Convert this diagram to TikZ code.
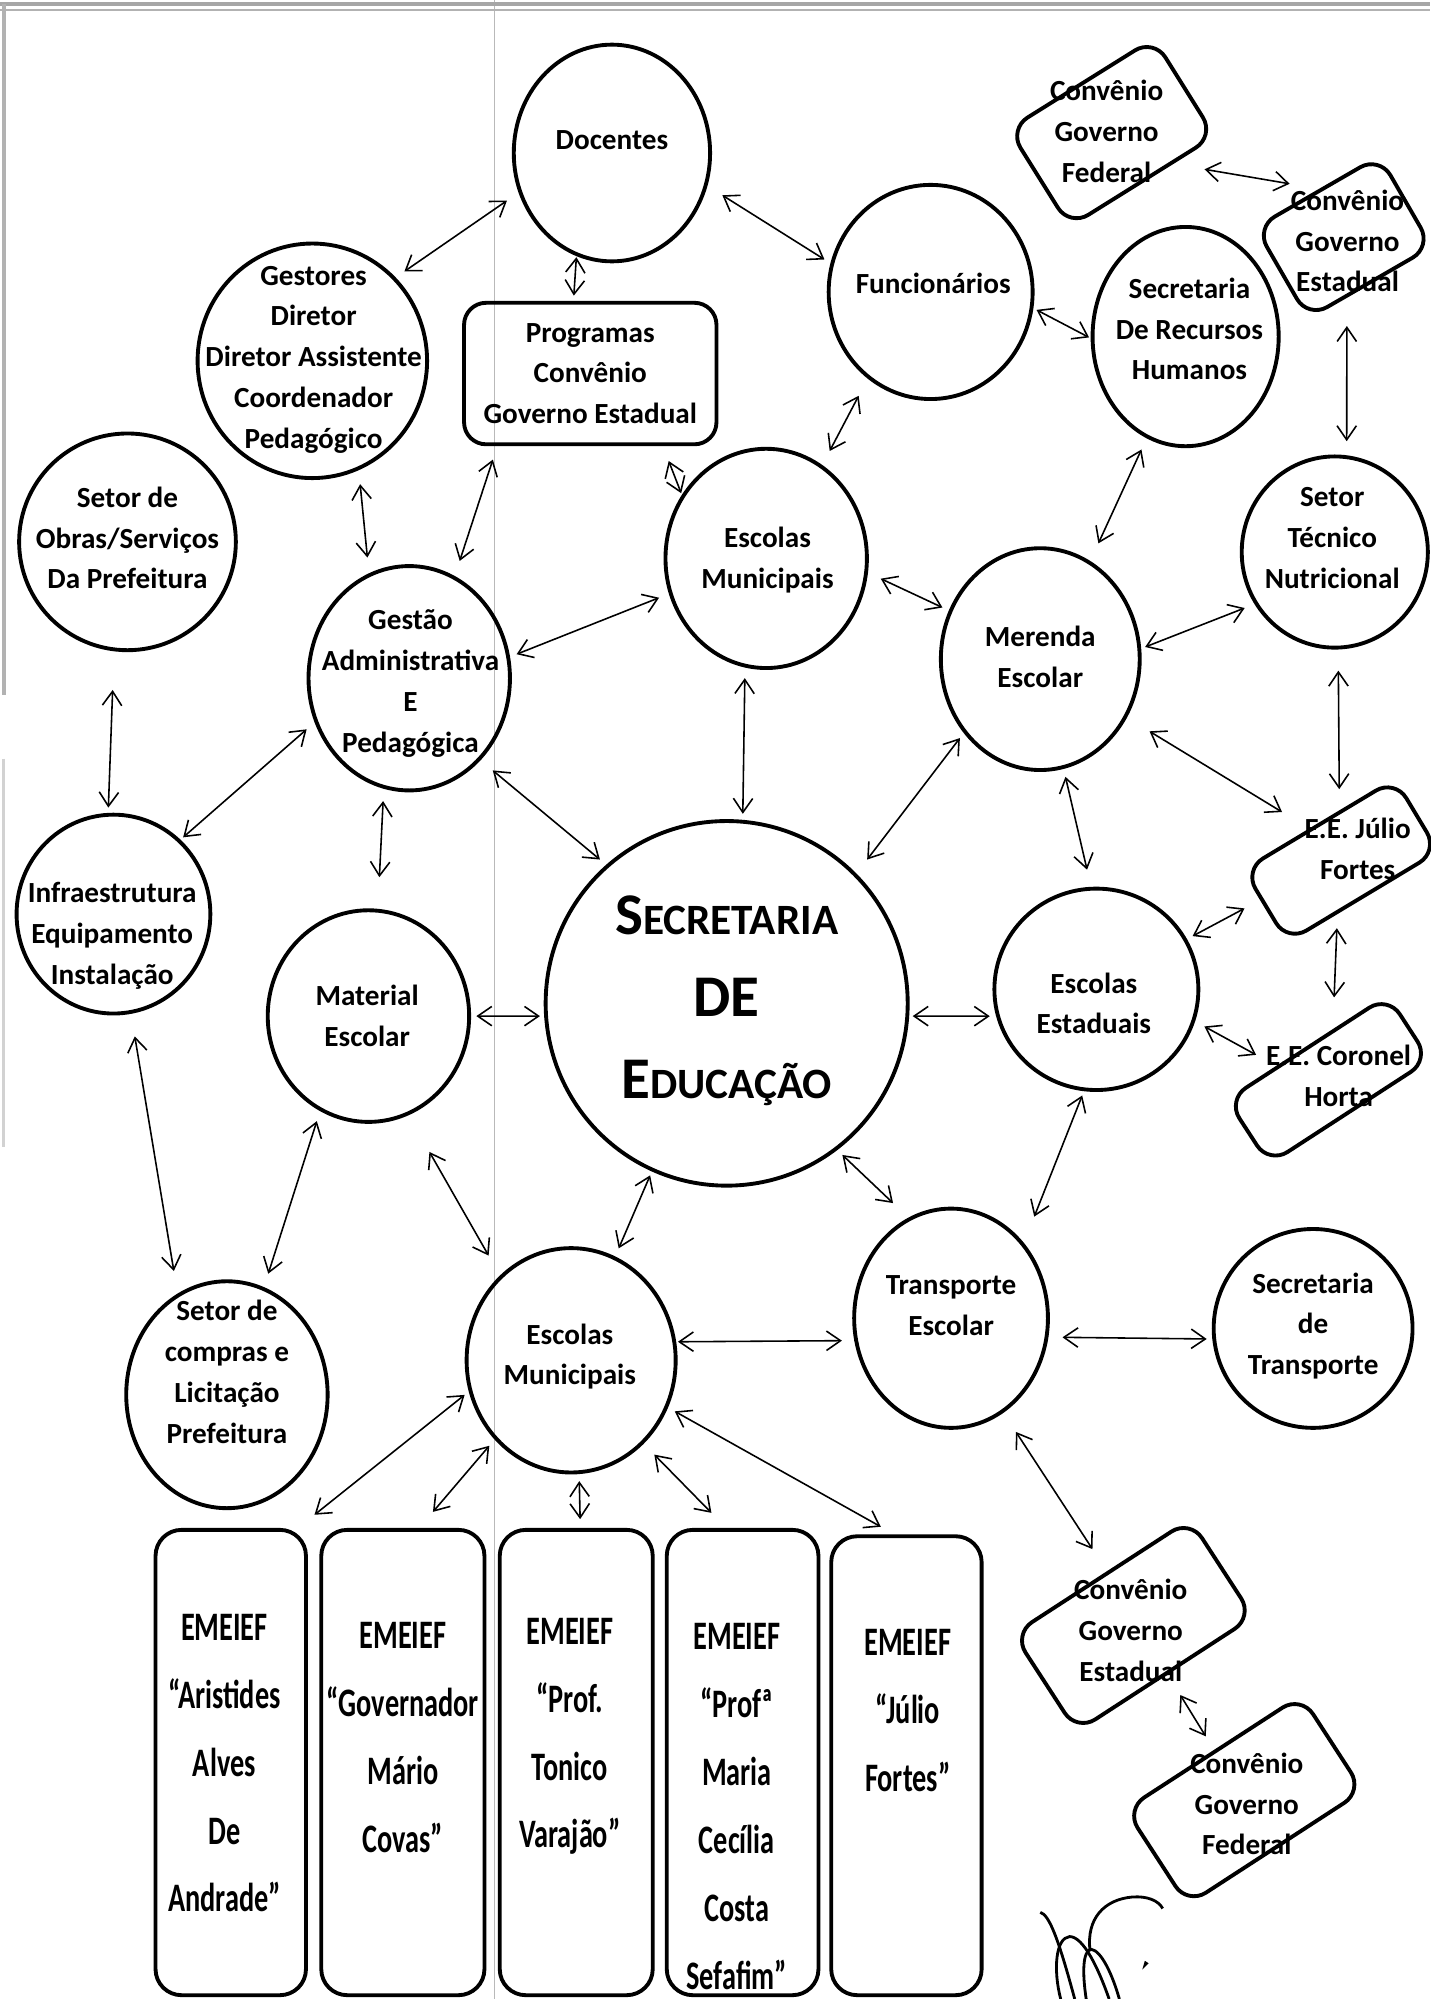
\documentclass[tikz,border=0pt]{standalone}
\usepackage{fontspec}
\setmainfont{Carlito}
\newfontfamily\narrowfont{Carlito}[FakeStretch=0.7]
\usetikzlibrary{shapes.geometric,arrows.meta}
\newcommand{\dpx}{0.012745cm}
\newcommand{\lblfont}{\bfseries\fontsize{8.3}{11.6}\selectfont}
\newcommand{\colfont}{\narrowfont\bfseries\fontsize{11.5}{19.3}\selectfont}
\newcommand{\titbig}{\bfseries\fontsize{16.8}{23.2}\selectfont}
\newcommand{\titsmall}{\bfseries\fontsize{12.3}{23.2}\selectfont}

\begin{document}
\begin{tikzpicture}[x={(0.012745cm,0)}, y={(0,-0.012745cm)}, >={Straight Barb[length=4pt,width=5.5pt]}]
    \tikzset{
        bub/.style 2 args   =   { ellipse
                                , draw=black
                                , line width=1.1pt
                                , minimum width=#1*\dpx
                                , minimum height=#2*\dpx
        }
        , tbox/.style 2 args =  { rectangle
                                , rounded corners=0.22cm
                                , draw=black
                                , line width=1.1pt
                                , minimum width=#1*\dpx
                                , minimum height=#2*\dpx
        }
        , col/.style         =  { tbox={118}{365}
                                , rounded corners=0.26cm
        }
        , txt/.style         =  { align=center
                                , inner sep=0pt
                                , font=\lblfont
        }
        , coltxt/.style      =  { align=center
                                , inner sep=0pt
                                , font=\colfont
        }
        , arrow/.style       =  { <->
                                , line width=0.45pt
                                , shorten >= 3pt
                                , shorten <= 3pt
        }
    }
    \useasboundingbox (0,0) rectangle (1122,1568);

    \draw[gray!55, line width=0.4pt] (388,0) -- (388,1568);
    \draw[gray!70, line width=1.3pt] (0,3) -- (1122,3);
    \draw[gray!60, line width=0.5pt] (0,8) -- (1122,8);
    \draw[gray!60, line width=1.2pt] (3,3) -- (3,545);
    \draw[gray!35, line width=0.8pt] (3,595) -- (3,900);

    \node[bub={154}{170}] (doc) at (480,120) {};
    \node[txt] (doc-t) at (480,110) {Docentes};
    \node[bub={160}{168}] (fun) at (730,229) {};
    \node[txt] (fun-t) at (732,222) {Funcionários};
    \node[bub={146}{172}] (srh) at (930,264) {};
    \node[txt] (srh-t) at (933,258) {Secretaria\\De Recursos\\Humanos};
    \node[bub={180}{184}] (ges) at (245,283) {};
    \node[txt] (ges-t) at (246,282) {Gestores\\Diretor\\Diretor Assistente\\Coordenador\\Pedagógico};
    \node[tbox={198}{111}, font=\lblfont, align=center] (prog) at (463,293) {Programas\\Convênio\\Governo Estadual};
    \node[bub={170}{170}] (obr) at (100,425) {};
    \node[txt] (obr-t) at (100,422) {Setor de\\Obras/Serviços\\Da Prefeitura};
    \node[bub={158}{172}] (emt) at (601,438) {};
    \node[txt] (emt-t) at (602,439) {Escolas\\Municipais};
    \node[bub={146}{150}] (stn) at (1047,433) {};
    \node[txt] (stn-t) at (1045,422) {Setor\\Técnico\\Nutricional};
    \node[bub={156}{174}] (mer) at (816,517) {};
    \node[txt] (mer-t) at (816,515) {Merenda\\Escolar};
    \node[bub={158}{176}] (gap) at (321,532) {};
    \node[txt] (gap-t) at (322,536) {Gestão\\Administrativa\\E\\Pedagógica};
    \node[bub={152}{156}] (inf) at (89,717) {};
    \node[txt] (inf-t) at (88,734) {Infraestrutura\\Equipamento\\Instalação};
    \node[bub={158}{166}] (mat) at (289,797) {};
    \node[txt] (mat-t) at (288,797) {Material\\Escolar};
    \node[bub={284}{286}] (sec) at (570,787) {};
    \node[align=center, inner sep=0pt, font=\titsmall] (sec-t) at (570,785) {{\titbig S}ECRETARIA\\{\titbig DE}\\{\titbig E}DUCAÇÃO};
    \node[bub={160}{158}] (ees) at (860,776) {};
    \node[txt] (ees-t) at (858,787) {Escolas\\Estaduais};
    \node[bub={158}{178}] (cmp) at (178,1094) {};
    \node[txt] (cmp-t) at (178,1076) {Setor de\\compras e\\Licitação\\Prefeitura};
    \node[bub={164}{176}] (emb) at (448,1067) {};
    \node[txt] (emb-t) at (447,1064) {Escolas\\Municipais};
    \node[bub={152}{172}] (tra) at (746,1034) {};
    \node[txt] (tra-t) at (746,1024) {Transporte\\Escolar};
    \node[bub={156}{156}] (stp) at (1030,1042) {};
    \node[txt] (stp-t) at (1030,1040) {Secretaria\\de\\Transporte};

    \node[tbox={134}{90}, rotate=32] (cgf1) at (872,104) {};
    \node[txt] (cgf1-t) at (868,103) {Convênio\\Governo\\Federal};
    \node[tbox={112}{82}, rotate=30] (cge1) at (1054,186) {};
    \node[txt] (cge1-t) at (1057,189) {Convênio\\Governo\\Estadual};
    \node[tbox={138}{66}, rotate=31] (ejf) at (1052,675) {};
    \node[txt] (ejf-t) at (1065,666) {E.E. Júlio\\Fortes};
    \node[tbox={150}{60}, rotate=33] (ech) at (1042,847) {};
    \node[txt] (ech-t) at (1050,844) {E.E. Coronel\\Horta};
    \node[tbox={165}{91}, rotate=33] (cge2) at (889,1275) {};
    \node[txt] (cge2-t) at (887,1279) {Convênio\\Governo\\Estadual};
    \node[tbox={164}{89}, rotate=33] (cgf2) at (976,1412) {};
    \node[txt] (cgf2-t) at (978,1415) {Convênio\\Governo\\Federal};

    \node[col] (b1) at (181,1382.5) {};
    \node[coltxt] (b1-t) at (176,1383) {EMEIEF\\“Aristides\\Alves\\De\\Andrade”};
    \node[col, minimum width=128*\dpx] (b2) at (316,1382.5) {};
    \node[coltxt] (b2-t) at (316,1363) {EMEIEF\\“Governador\\Mário\\Covas”};
    \node[col, minimum width=120*\dpx] (b3) at (452,1382.5) {};
    \node[coltxt] (b3-t) at (447,1362) {EMEIEF\\“Prof.\\Tonico\\Varajão”};
    \node[col, minimum width=119*\dpx] (b4) at (582.5,1382.5) {};
    \node[coltxt] (b4-t) at (578,1417) {EMEIEF\\“Profª\\Maria\\Cecília\\Costa\\Sefafim”};
    \node[col, minimum height=360*\dpx] (b5) at (711,1385) {};
    \node[coltxt] (b5-t) at (712,1342) {EMEIEF\\“Júlio\\Fortes”};

    \draw[arrow, shorten <=4pt] (doc.203) -- (ges.45);
    \draw[arrow, shorten <=0.3pt, shorten >=1.5pt] (doc.251) -- (prog.103);
    \draw[arrow, shorten <=5pt, shorten >=2pt] (doc.341) -- (fun.164);
    \draw[arrow, shorten <=1pt, shorten >=0.5pt] (fun.351) -- (srh.181);
    \draw[arrow, shorten <=5.5pt, shorten >=4.5pt] (fun.234) -- (emt.59);
    \draw[arrow, shorten <=9pt, shorten >=8.5pt] (cgf1.301) -- (cge1.87);
    \draw[arrow, shorten <=8pt, shorten >=4pt] (cge1.243) -- (stn.83);
    \draw[arrow, shorten <=3.5pt, shorten >=5.5pt] (srh.249) -- (mer.63);
    \draw[arrow, shorten <=4pt, shorten >=4.5pt] (ges.293) -- (gap.111);
    \draw[arrow, shorten <=4pt, shorten >=4.5pt] (prog.218) -- (gap.66);
    \draw[arrow, shorten <=4.5pt, shorten >=0.5pt] (prog.315) -- (emt.143);
    \draw[arrow, shorten <=2pt] (gap.12) -- (emt.200);
    \draw[arrow, shorten <=4pt, shorten >=2pt] (emt.352) -- (mer.152);
    \draw[arrow, shorten <=1.2pt] (mer.6) -- (stn.213);
    \draw[arrow, shorten <=11pt, shorten >=1.5pt] (obr.263) -- (inf.93);
    \draw[arrow, shorten >=1pt] (gap.205) -- (inf.48);
    \draw[arrow, shorten <=3.5pt, shorten >=9pt] (gap.257) -- (mat.85);
    \draw[arrow, shorten <=4.5pt, shorten >=2.3pt] (gap.311) -- (sec.131);
    \draw[arrow, shorten >=1.7pt] (emt.259) -- (sec.85);
    \draw[arrow, shorten <=1.8pt, shorten >=5pt] (mer.224) -- (sec.45);
    \draw[arrow, shorten <=7.5pt, shorten >=9pt] (mer.326) -- (ejf.104);
    \draw[arrow, shorten <=6pt, shorten >=6pt] (stn.272) -- (ejf.61);
    \draw[arrow, shorten <=2.3pt, shorten >=5pt] (mer.282) -- (ees.93);
    \draw[arrow, shorten <=1.8pt, shorten >=5pt] (ees.29) -- (ejf.175);
    \draw[arrow, shorten <=4pt, shorten >=9pt] (ejf.235) -- (ech.52);
    \draw[arrow, shorten >=6.5pt] (ees.342) -- (ech.132);
    \draw[arrow, shorten <=1.5pt, shorten >=1.2pt] (mat.0) -- (sec.184);
    \draw[arrow, shorten <=1pt, shorten >=1.8pt] (sec.356) -- (ees.195);
    \draw[arrow, shorten <=6.5pt, shorten >=6.5pt] (inf.280) -- (cmp.116);
    \draw[arrow, shorten >=4pt] (mat.243) -- (cmp.71);
    \draw[arrow, shorten <=12pt, shorten >=6.5pt] (mat.292) -- (emb.130);
    \draw[arrow, shorten <=1.2pt, shorten >=2.5pt] (sec.246) -- (emb.67);
    \draw[arrow, shorten <=2pt, shorten >=6pt] (sec.307) -- (tra.113);
    \draw[arrow, shorten <=1.3pt, shorten >=8pt] (ees.263) -- (tra.46);
    \draw[arrow, shorten <=0.5pt, shorten >=3.5pt] (emb.10) -- (tra.193);
    \draw[arrow, shorten <=4pt, shorten >=1.6pt] (tra.349) -- (stp.186);
    \draw[arrow, shorten <=6.5pt, shorten >=7.5pt] (tra.299) -- (cge2.83);
    \draw[arrow, shorten <=6.8pt, shorten >=4.5pt] (cge2.272) -- (cgf2.88);
    \draw[arrow, shorten <=1.5pt, shorten >=6pt] (emb.197) -- (b1.74);
    \draw[arrow, shorten <=2.3pt, shorten >=6pt] (emb.226) -- (b2.86);
    \draw[arrow, shorten <=2pt, shorten >=2.5pt] (emb.274) -- (b3.89);
    \draw[arrow, shorten <=4.3pt, shorten >=6pt] (emb.311) -- (b4.94);
    \draw[arrow, shorten <=2.2pt, shorten >=4.4pt] (emb.334) -- (b5.93);

    \draw[line width=0.8pt] (816,1500) .. controls (823,1502) and (830,1520) .. (843,1568);
    \draw[line width=0.8pt] (832,1568) .. controls (826,1545) and (828,1520) .. (839,1519) .. controls (850,1519) and (862,1545) .. (870,1568);
    \draw[line width=0.8pt] (852,1568) .. controls (849,1548) and (849,1530) .. (856,1529) .. controls (864,1530) and (873,1550) .. (878,1568);
    \draw[line width=0.8pt] (855,1530) .. controls (852,1505) and (866,1490) .. (888,1488) .. controls (900,1487) and (909,1491) .. (912,1497);
    \fill (896,1545) -- (898,1538) -- (901,1540) -- cycle;
\end{tikzpicture}
\end{document}
